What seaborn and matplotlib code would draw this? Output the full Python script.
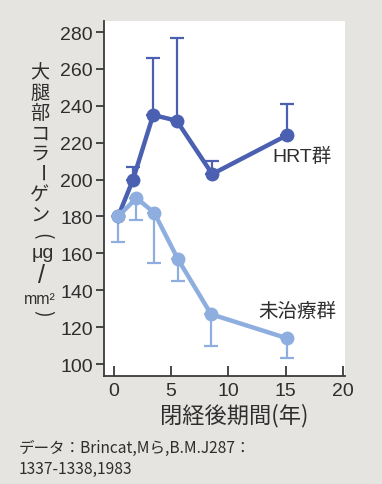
import numpy as np
import pandas as pd
import seaborn as sns
import matplotlib
matplotlib.use("Agg")
import matplotlib.pyplot as plt

# Years after menopause and thigh skin collagen (μg/mm²)
hrt_years = [0.4, 1.7, 3.45, 5.5, 8.6, 15.1]
hrt_collagen = [180, 200, 235, 232, 203, 224]
hrt_err_top = [np.nan, 207, 266, 277, 210, 241]

ctl_years = [0.4, 2.0, 3.55, 5.6, 8.5, 15.1]
ctl_collagen = [180, 190, 182, 157, 127, 114]
ctl_err_bottom = [166, 178, 155, 145, 110, 103]

x_ticks = [0, 5, 10, 15, 20]
y_ticks = [100, 120, 140, 160, 180, 200, 220, 240, 260, 280]

HRT_COLOR = "#4c60b2"
CTL_COLOR = "#8eaee0"
TEXT_COLOR = "#2e2e2e"
PAPER = "#e6e4e0"

sns.set_style("white")
plt.rcParams["font.family"] = ["Liberation Sans", "Noto Sans CJK JP", "DejaVu Sans"]
JP = ["Noto Sans CJK JP", "DejaVu Sans"]

W, H = 382, 485
fig = plt.figure(figsize=(W / 100, H / 100), dpi=100, facecolor=PAPER)


def fx(px):
    return px / W


def fy(py):
    return 1 - py / H


ax = fig.add_axes([fx(104), fy(377), fx(345) - fx(104), fy(22) - fy(377)])
ax.set_facecolor("white")

hrt = pd.DataFrame({"year": hrt_years, "collagen": hrt_collagen, "top": hrt_err_top})
ctl = pd.DataFrame({"year": ctl_years, "collagen": ctl_collagen, "bottom": ctl_err_bottom})

# one-sided error bars: upward for HRT, downward for untreated
h = hrt.dropna()
ax.errorbar(h["year"], h["collagen"], yerr=[np.zeros(len(h)), h["top"] - h["collagen"]],
            fmt="none", ecolor=HRT_COLOR, elinewidth=1.6, capsize=5, capthick=1.6, zorder=2)
ax.errorbar(ctl["year"], ctl["collagen"], yerr=[ctl["collagen"] - ctl["bottom"], np.zeros(len(ctl))],
            fmt="none", ecolor=CTL_COLOR, elinewidth=1.6, capsize=5, capthick=1.6, zorder=2)

sns.lineplot(data=hrt, x="year", y="collagen", sort=False, color=HRT_COLOR, linewidth=3.2,
             marker="o", markersize=10, markeredgewidth=0, ax=ax, zorder=3)
sns.lineplot(data=ctl, x="year", y="collagen", sort=False, color=CTL_COLOR, linewidth=3.2,
             marker="o", markersize=10, markeredgewidth=0, ax=ax, zorder=4)

ax.set_xlim(-0.83, 20.17)
ax.set_ylim(93.5, 286)
ax.set_xticks(x_ticks)
ax.set_yticks(y_ticks)
ax.set_xlabel("")
ax.set_ylabel("")

for side in ["top", "right"]:
    ax.spines[side].set_visible(False)
for side in ["left", "bottom"]:
    ax.spines[side].set_color("#3a3a3a")
    ax.spines[side].set_linewidth(1.3)

ax.tick_params(axis="y", direction="out", length=6, width=1.3, color="#3a3a3a",
               labelsize=14, labelcolor=TEXT_COLOR, pad=2, left=True)
ax.tick_params(axis="x", direction="in", length=7, width=1.3, color="#3a3a3a",
               labelsize=14, labelcolor=TEXT_COLOR, pad=4, bottom=True)

# series labels
ax.text(13.8, 213, "HRT群", fontsize=14, color=TEXT_COLOR, family=["Liberation Sans"] + JP,
        ha="left", va="center")
ax.text(12.6, 129, "未治療群", fontsize=14, color=TEXT_COLOR, family=JP,
        ha="left", va="center")

# x axis title
fig.text(fx(234), fy(416), "閉経後期間(年)", fontsize=16, color=TEXT_COLOR, family=JP,
         ha="center", va="center")

# vertical y axis title, set character by character
ylab = [("大", 40, 73, 0), ("腿", 40, 93, 0), ("部", 40, 113, 0), ("コ", 40, 134, 0),
        ("ラ", 40, 154, 0), ("ー", 40, 174, -90), ("ゲ", 40, 195, 0), ("ン", 40, 215, 0)]
for ch, px, py, rot in ylab:
    fig.text(fx(px), fy(py), ch, fontsize=13.8, color=TEXT_COLOR, family=JP,
             ha="center", va="center", rotation=rot)
fig.text(fx(42), fy(236), "(", fontsize=14, color=TEXT_COLOR, family=JP,
         ha="center", va="center", rotation=-90)
fig.text(fx(43), fy(253), "μg", fontsize=14, color=TEXT_COLOR, family=["Liberation Sans"],
         ha="center", va="center")
fig.text(fx(42), fy(276), "/", fontsize=18, color=TEXT_COLOR, family=["Liberation Sans"],
         ha="center", va="center")
fig.text(fx(40), fy(299), "mm²", fontsize=11.5, color=TEXT_COLOR, family=["Liberation Sans"],
         ha="center", va="center")
fig.text(fx(42), fy(313), ")", fontsize=14, color=TEXT_COLOR, family=JP,
         ha="center", va="center", rotation=-90)

# source note
fig.text(fx(19), fy(448), "データ：Brincat,Mら,B.M.J287：", fontsize=11.2, color=TEXT_COLOR,
         family=JP, ha="left", va="center")
fig.text(fx(19), fy(469), "1337-1338,1983", fontsize=11.2, color=TEXT_COLOR,
         family=JP, ha="left", va="center")

fig.savefig("out.png", dpi=100, facecolor=PAPER)
